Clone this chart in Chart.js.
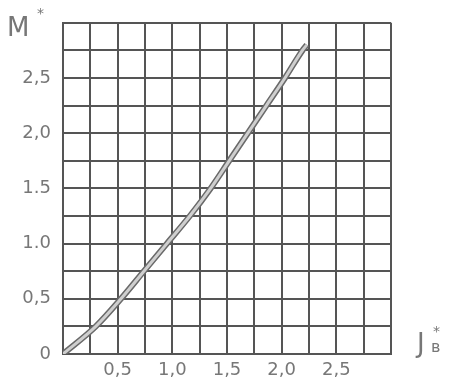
<!DOCTYPE html>
<html>
<head>
<meta charset="utf-8">
<script src="https://cdn.jsdelivr.net/npm/chart.js@4.4.1/dist/chart.umd.min.js"></script>
<style>
  html, body { margin: 0; padding: 0; background: #fff; }
  #wrap { width: 458px; height: 384px; }
</style>
</head>
<body>
<div id="wrap"><canvas id="c" width="458" height="384"></canvas></div>
<script>
// curve M* = f(J*)
const jValues = [0, 0.3, 0.53, 0.74, 0.95, 1.16, 1.35, 1.52, 1.69, 1.86, 2.03, 2.19, 2.23];
const mValues = [0, 0.25, 0.5, 0.75, 1.0, 1.25, 1.5, 1.75, 2.0, 2.25, 2.5, 2.75, 2.8];

// tick labels as printed
const xTickLabels = { 0.5: '0,5', 1: '1,0', 1.5: '1,5', 2: '2,0', 2.5: '2,5' };
const yTickLabels = { 0: '0', 0.5: '0,5', 1: '1.0', 1.5: '1.5', 2: '2,0', 2.5: '2,5' };

const axisMax = 3;
const gridStep = 0.25;

const points = jValues.map((j, i) => ({ x: j, y: mValues[i] }));

const inkFont = { family: 'DejaVu Sans', size: 18 };

// axis names written by hand near the corners
const axisNames = {
  id: 'axisNames',
  afterDraw(chart) {
    const ctx = chart.ctx;
    const a = chart.chartArea;
    ctx.save();
    ctx.fillStyle = '#777';
    ctx.textBaseline = 'alphabetic';
    ctx.textAlign = 'left';
    ctx.font = '26px "DejaVu Sans"';
    ctx.fillText('M', 7, 36);
    ctx.font = '14px "DejaVu Sans"';
    ctx.fillText('*', 37, 18);
    ctx.font = '26px "DejaVu Sans"';
    ctx.fillText('J', a.right + 26, a.bottom - 2);
    ctx.font = '14px "DejaVu Sans"';
    ctx.fillText('*', a.right + 42, a.bottom - 18);
    ctx.font = '16px "DejaVu Sans"';
    ctx.fillText('в', a.right + 40, a.bottom - 2);
    ctx.restore();
  }
};

new Chart(document.getElementById('c'), {
  type: 'scatter',
  data: {
    datasets: [
      {
        data: points,
        showLine: true,
        borderColor: '#6a6a6a',
        borderWidth: 6,
        pointRadius: 0,
        cubicInterpolationMode: 'monotone',
        order: 1
      },
      {
        data: points,
        showLine: true,
        borderColor: '#cfcfcf',
        borderWidth: 3,
        pointRadius: 0,
        cubicInterpolationMode: 'monotone',
        order: 0
      }
    ]
  },
  options: {
    responsive: false,
    animation: false,
    layout: { padding: { top: 22, right: 67, left: 0, bottom: 0 } },
    plugins: { legend: { display: false }, tooltip: { enabled: false } },
    scales: {
      x: {
        type: 'linear',
        min: 0,
        max: axisMax,
        afterFit: s => { s.height = 30; },
        border: { color: '#555', width: 2 },
        grid: { color: '#555', lineWidth: 2, drawTicks: false },
        ticks: {
          stepSize: gridStep,
          autoSkip: false,
          maxRotation: 0,
          padding: 6,
          color: '#777',
          font: inkFont,
          callback: v => xTickLabels[v] || ''
        }
      },
      y: {
        type: 'linear',
        min: 0,
        max: axisMax,
        afterFit: s => { s.width = 63; },
        border: { color: '#555', width: 2 },
        grid: { color: '#555', lineWidth: 2, drawTicks: false },
        ticks: {
          stepSize: gridStep,
          autoSkip: false,
          padding: 12,
          color: '#777',
          font: inkFont,
          callback: v => (v in yTickLabels ? yTickLabels[v] : '')
        }
      }
    }
  },
  plugins: [axisNames]
});
</script>
</body>
</html>
